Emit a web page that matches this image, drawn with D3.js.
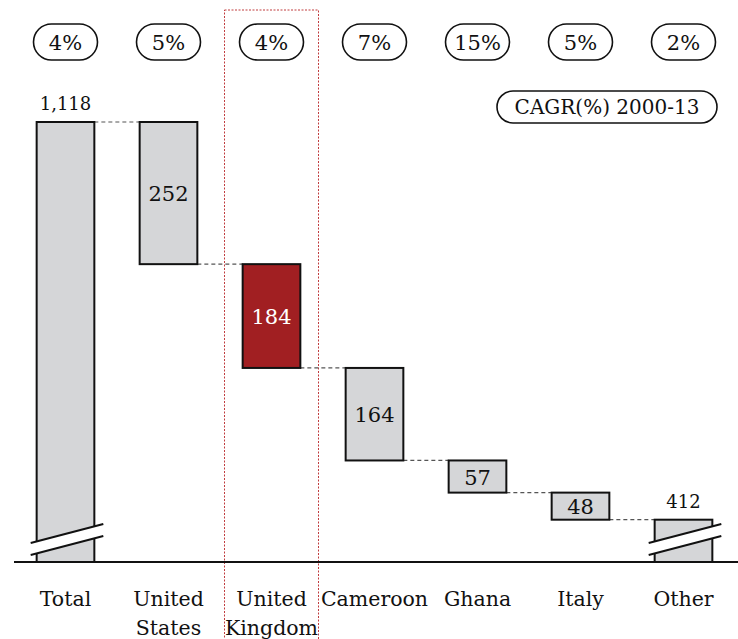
<!DOCTYPE html>
<html>
<head>
<meta charset="utf-8">
<script src="https://cdn.jsdelivr.net/npm/d3@7"></script>
<style>
  body { margin: 0; background: #fff; }
  text { font-family: "DejaVu Serif", "Liberation Serif", serif; fill: #111; }
</style>
</head>
<body>
<div id="chart"></div>
<script>
// data
var categories = ["Total", "United States", "United Kingdom", "Cameroon", "Ghana", "Italy", "Other"];
var values = [1118, 252, 184, 164, 57, 48, 412];
var cagrLabels = ["4%", "5%", "4%", "7%", "15%", "5%", "2%"];
var valueLabels = ["1,118", "252", "184", "164", "57", "48", "412"];
var highlighted = "United Kingdom";
var legendText = "CAGR(%) 2000-13";

var width = 738, height = 639;
var axisMin = 338; // axis is truncated, total & other are broken bars

var svg = d3.select("#chart").append("svg")
  .attr("width", width)
  .attr("height", height);

var x = d3.scaleBand()
  .domain(categories)
  .range([14, 735])
  .paddingInner(0.44)
  .paddingOuter(0.22);

var y = d3.scaleLinear()
  .domain([axisMin, 1118])
  .range([562, 122]);

// build waterfall steps
var running = values[0];
var steps = categories.map(function(c, i) {
  var s;
  if (i == 0) {
    s = { cat: c, top: values[0], bottom: axisMin, broken: true };
  } else if (i == categories.length - 1) {
    s = { cat: c, top: running, bottom: axisMin, broken: true };
  } else {
    s = { cat: c, top: running, bottom: running - values[i], broken: false };
    running = running - values[i];
  }
  s.label = valueLabels[i];
  s.cagr = cagrLabels[i];
  return s;
});

// highlight box around UK column
var hx = x(highlighted) + x.bandwidth() / 2;
svg.append("rect")
  .attr("x", hx - 47)
  .attr("y", 10)
  .attr("width", 94)
  .attr("height", height + 20)
  .style("fill", "none")
  .style("stroke", "#c03c3e")
  .style("stroke-width", 1)
  .style("stroke-dasharray", "2,1.5");

// connectors
svg.selectAll("line.conn")
  .data(steps.slice(0, -1))
  .enter()
  .append("line")
  .attr("class", "conn")
  .attr("x1", function(d) { return x(d.cat) + x.bandwidth(); })
  .attr("x2", function(d, i) { return x(steps[i + 1].cat); })
  .attr("y1", function(d, i) { return i == 0 ? y(d.top) : y(d.bottom); })
  .attr("y2", function(d, i) { return i == 0 ? y(d.top) : y(d.bottom); })
  .style("stroke", "#555")
  .style("stroke-width", 1.2)
  .style("stroke-dasharray", "4,3");

// bars
svg.selectAll("rect.bar")
  .data(steps)
  .enter()
  .append("rect")
  .attr("class", "bar")
  .attr("x", function(d) { return x(d.cat); })
  .attr("y", function(d) { return y(d.top); })
  .attr("width", x.bandwidth())
  .attr("height", function(d) { return y(d.bottom) - y(d.top); })
  .style("fill", function(d) { return d.cat == highlighted ? "#a11f22" : "#d5d6d8"; })
  .style("stroke", "#111")
  .style("stroke-width", 2);

// break marks on broken bars
var breaks = steps.filter(function(d) { return d.broken; });
breaks.forEach(function(d) {
  var x0 = x(d.cat) - 6, x1 = x(d.cat) + x.bandwidth() + 9;
  var g = svg.append("g");
  g.append("polygon")
    .attr("points", [[x0, 543], [x1, 524], [x1, 536], [x0, 555]].join(" "))
    .style("fill", "#fff");
  g.append("line")
    .attr("x1", x0).attr("y1", 543).attr("x2", x1).attr("y2", 524)
    .style("stroke", "#111").style("stroke-width", 2);
  g.append("line")
    .attr("x1", x0).attr("y1", 555).attr("x2", x1).attr("y2", 536)
    .style("stroke", "#111").style("stroke-width", 2);
});

// baseline
svg.append("line")
  .attr("x1", 14).attr("x2", width)
  .attr("y1", y(axisMin)).attr("y2", y(axisMin))
  .style("stroke", "#111")
  .style("stroke-width", 2);

// value labels
svg.selectAll("text.val")
  .data(steps)
  .enter()
  .append("text")
  .attr("class", "val")
  .attr("x", function(d) { return x(d.cat) + x.bandwidth() / 2; })
  .attr("y", function(d) {
    if (d.broken) return y(d.top) - 12;
    return (y(d.top) + y(d.bottom)) / 2 + 8;
  })
  .attr("text-anchor", "middle")
  .style("font-size", function(d) { return d.broken ? "18px" : "21px"; })
  .style("fill", function(d) { return d.cat == highlighted ? "#fff" : "#111"; })
  .text(function(d) { return d.label; });

// category labels
var cats = svg.selectAll("text.cat")
  .data(categories)
  .enter()
  .append("text")
  .attr("class", "cat")
  .attr("x", function(d) { return x(d) + x.bandwidth() / 2; })
  .attr("y", 606)
  .attr("text-anchor", "middle")
  .style("font-size", "20.5px");
cats.each(function(d) {
  var words = d.split(" ");
  var t = d3.select(this);
  words.forEach(function(w, i) {
    t.append("tspan")
      .attr("x", x(d) + x.bandwidth() / 2)
      .attr("dy", i == 0 ? 0 : 29)
      .text(w);
  });
});

// CAGR pills
var pills = svg.selectAll("g.pill")
  .data(steps)
  .enter()
  .append("g")
  .attr("class", "pill")
  .attr("transform", function(d) { return "translate(" + (x(d.cat) + x.bandwidth() / 2) + ",42)"; });
pills.append("rect")
  .attr("x", -32).attr("y", -18)
  .attr("width", 64).attr("height", 36)
  .attr("rx", 18)
  .style("fill", "#fff")
  .style("stroke", "#111")
  .style("stroke-width", 1.6);
pills.append("text")
  .attr("text-anchor", "middle")
  .attr("y", 8)
  .style("font-size", "21px")
  .text(function(d) { return d.cagr; });

// legend pill
var lg = svg.append("g").attr("transform", "translate(607,107)");
lg.append("rect")
  .attr("x", -110).attr("y", -16)
  .attr("width", 220).attr("height", 32)
  .attr("rx", 16)
  .style("fill", "#fff")
  .style("stroke", "#111")
  .style("stroke-width", 1.6);
lg.append("text")
  .attr("text-anchor", "middle")
  .attr("y", 7)
  .style("font-size", "20px")
  .text(legendText);
</script>
</body>
</html>
